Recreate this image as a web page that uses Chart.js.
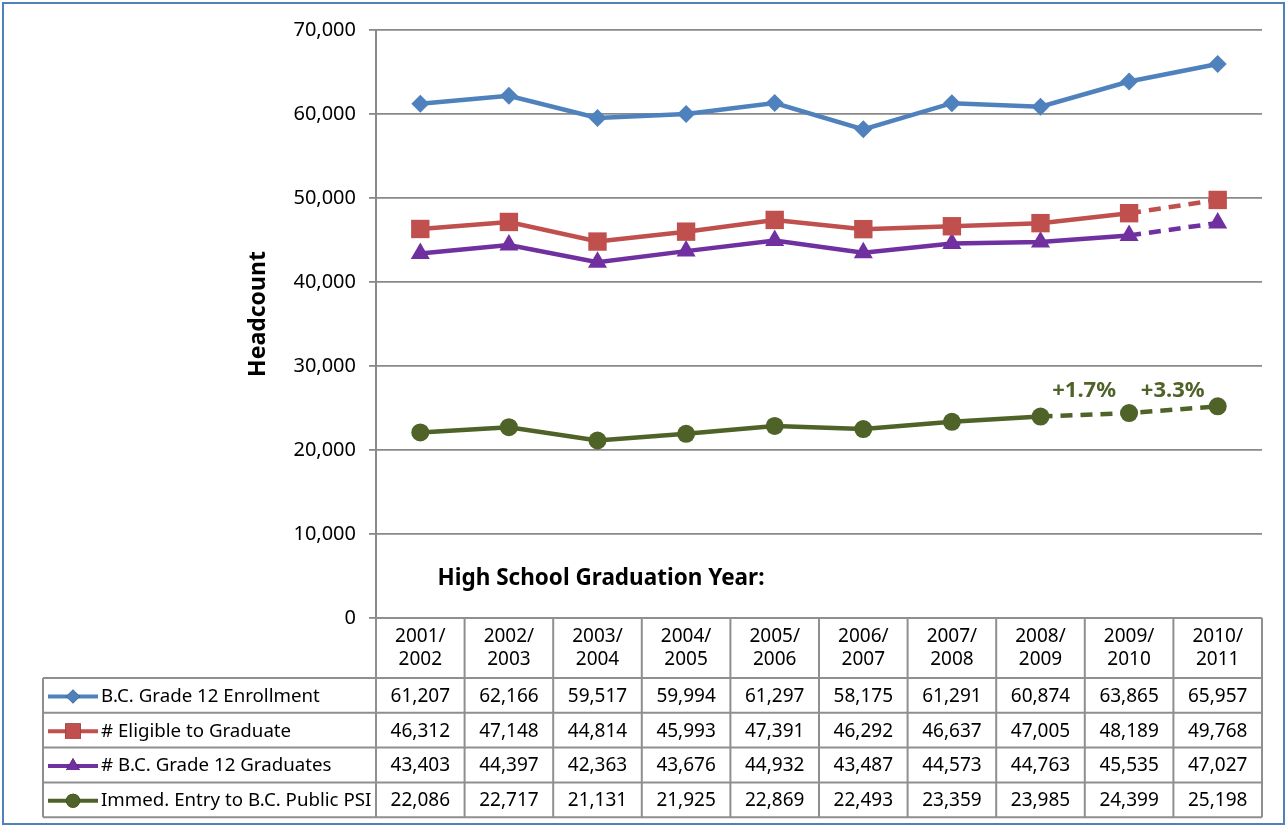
<!DOCTYPE html>
<html>
<head>
<meta charset="utf-8">
<title>B.C. Grade 12 headcount</title>
<script src="https://cdn.jsdelivr.net/npm/chart.js@4"></script>
<style>
  html, body { margin:0; padding:0; background:#fff; }
  #wrap { width:1287px; height:827px; position:relative; }
</style>
</head>
<body>
<div id="wrap"><canvas id="chart" width="1287" height="827"></canvas></div>
<script>
const YEARS = ["2001/2002","2002/2003","2003/2004","2004/2005","2005/2006",
               "2006/2007","2007/2008","2008/2009","2009/2010","2010/2011"];
const ENROLLMENT = [61207,62166,59517,59994,61297,58175,61291,60874,63865,65957];
const ELIGIBLE   = [46312,47148,44814,45993,47391,46292,46637,47005,48189,49768];
const GRADUATES  = [43403,44397,42363,43676,44932,43487,44573,44763,45535,47027];
const PSI_ENTRY  = [22086,22717,21131,21925,22869,22493,23359,23985,24399,25198];
const PSI_LABELS = ["","","","","","","","","+1.7%","+3.3%"];
const Y_TICKS    = [0,10000,20000,30000,40000,50000,60000,70000];

const FONT = "'Noto Sans', 'Open Sans', sans-serif";
const GRID = "#898989";

// segment dash helper: dashed from index `from` onward
const dashFrom = from => ({
  borderDash: c => c.p0DataIndex >= from ? [12, 8] : undefined
});

const fmt = v => v.toLocaleString("en-US");

// ─── table + annotations under the plot ──────────────────────────────────────
const tablePlugin = {
  id: "dataTable",
  afterDraw(chart) {
    const {ctx, chartArea, scales} = chart;
    const x = scales.x;
    const n = YEARS.length;
    const colW = (chartArea.right - chartArea.left) / n;
    const top = chartArea.bottom;
    const hdrH = 60, rowH = 34.8;
    const legL = 43;
    const rows = chart.data.datasets;

    ctx.save();
    ctx.strokeStyle = "#8f8f8f";
    ctx.lineWidth = 2;

    // grid of the table
    ctx.beginPath();
    for (let i = 0; i <= n; i++) {
      const cx = chartArea.left + i * colW;
      ctx.moveTo(cx, top);
      ctx.lineTo(cx, top + hdrH + rowH * rows.length);
    }
    ctx.moveTo(chartArea.left, top); ctx.lineTo(chartArea.right, top);
    for (let r = 0; r <= rows.length; r++) {
      const ry = top + hdrH + r * rowH;
      ctx.moveTo(legL, ry); ctx.lineTo(chartArea.right, ry);
    }
    ctx.moveTo(legL, top + hdrH);
    ctx.lineTo(legL, top + hdrH + rowH * rows.length);
    ctx.stroke();

    ctx.fillStyle = "#000";
    ctx.textAlign = "center";
    ctx.textBaseline = "middle";
    ctx.font = "19px " + FONT;
    YEARS.forEach((y, i) => {
      const cx = x.getPixelForValue(i);
      const [a, b] = y.split("/");
      ctx.fillText(a + "/", cx, top + 19);
      ctx.fillText(b, cx, top + 42);
    });

    rows.forEach((ds, r) => {
      const cy = top + hdrH + r * rowH + rowH / 2 + 1;
      ctx.textAlign = "center";
      ctx.font = "19px " + FONT;
      ctx.fillStyle = "#000";
      ds.data.forEach((v, i) => ctx.fillText(fmt(v), x.getPixelForValue(i), cy));

      // legend key
      ctx.strokeStyle = ds.borderColor;
      ctx.lineWidth = 4;
      ctx.beginPath();
      ctx.moveTo(48, cy); ctx.lineTo(98, cy);
      ctx.stroke();
      Chart.helpers.drawPoint(ctx, {
        pointStyle: ds.pointStyle, radius: ds.legendRadius, rotation: 0, borderWidth: 0
      }, 73, cy);
      ctx.fillStyle = ds.borderColor;
      ctx.fill();

      ctx.fillStyle = "#000";
      ctx.textAlign = "left";
      ctx.font = "18.7px " + FONT;
      ctx.fillText(ds.label, 101, cy);
    });

    // axis title
    ctx.save();
    ctx.translate(258, 314);
    ctx.rotate(-Math.PI / 2);
    ctx.font = "bold 23px " + FONT;
    ctx.textAlign = "center";
    ctx.fillStyle = "#000";
    ctx.fillText("Headcount", 0, 0);
    ctx.restore();

    // in-plot caption
    ctx.font = "bold 22.5px " + FONT;
    ctx.textAlign = "center";
    ctx.fillStyle = "#000";
    ctx.fillText("High School Graduation Year:", 601, 579);

    // growth labels on the PSI series, set on one line above the points
    const meta = chart.getDatasetMeta(3);
    const marked = meta.data.filter((p, i) => PSI_LABELS[i]);
    const ly = Math.min(...marked.map(p => p.y)) - 16;
    ctx.font = "bold 22px " + FONT;
    ctx.fillStyle = "#4f6228";
    PSI_LABELS.forEach((t, i) => {
      if (!t) return;
      ctx.fillText(t, meta.data[i].x - 45, ly);
    });

    // outer frame
    ctx.strokeStyle = "#4f81bd";
    ctx.lineWidth = 2;
    ctx.strokeRect(3, 3, 1281, 821);
    ctx.restore();
  }
};

new Chart(document.getElementById("chart"), {
  type: "line",
  data: {
    labels: YEARS,
    datasets: [
      { label: "B.C. Grade 12 Enrollment", data: ENROLLMENT,
        borderColor: "#4f81bd", backgroundColor: "#4f81bd",
        pointStyle: "rectRot", pointRadius: 9, legendRadius: 7 },
      { label: "# Eligible to Graduate", data: ELIGIBLE,
        borderColor: "#c0504d", backgroundColor: "#c0504d",
        pointStyle: "rect", pointRadius: 13, legendRadius: 11,
        segment: dashFrom(8) },
      { label: "# B.C. Grade 12 Graduates", data: GRADUATES,
        borderColor: "#7030a0", backgroundColor: "#7030a0",
        pointStyle: "triangle", pointRadius: 11, legendRadius: 8,
        segment: dashFrom(8) },
      { label: "Immed. Entry to B.C. Public PSI", data: PSI_ENTRY,
        borderColor: "#4f6228", backgroundColor: "#4f6228",
        pointStyle: "circle", pointRadius: 9, legendRadius: 7,
        segment: dashFrom(7) },
    ].map(d => Object.assign({
      borderWidth: 4.5, tension: 0, fill: false,
      pointBorderWidth: 0, pointHoverRadius: d.pointRadius,
    }, d)),
  },
  options: {
    responsive: false,
    animation: false,
    events: [],
    layout: { padding: { left: 0, top: 30, right: 25, bottom: 209 } },
    plugins: { legend: { display: false }, tooltip: { enabled: false } },
    scales: {
      x: { display: false, offset: true },
      y: {
        min: 0, max: 70000,
        afterFit: s => { s.width = 376; },
        afterBuildTicks: s => { s.ticks = Y_TICKS.map(v => ({ value: v })); },
        ticks: { color: "#000", padding: 13, font: { family: FONT, size: 20 },
                 callback: v => fmt(v) },
        grid: { color: GRID, lineWidth: 1.8, tickLength: 7 },
        border: { color: GRID, width: 2 },
      },
    },
  },
  plugins: [tablePlugin],
});
</script>
</body>
</html>
